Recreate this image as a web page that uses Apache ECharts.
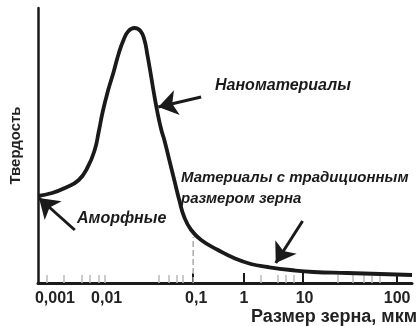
<!DOCTYPE html>
<html>
<head>
<meta charset="utf-8">
<script src="https://cdn.jsdelivr.net/npm/echarts@6/dist/echarts.min.js"></script>
<style>
  html, body { margin: 0; padding: 0; background: #fff; }
  #chart { width: 420px; height: 326px; }
</style>
</head>
<body>
<div id="chart"></div>
<script>
// schematic x position along axis (not linear in grain size)
var sizePos = [0, 14, 27, 41, 50, 57, 61, 65, 70, 76, 81, 86, 91, 97, 103, 107, 110, 113, 116, 120,
               124, 127, 132, 137, 142, 147, 154, 164, 181, 197, 214, 231, 254, 277, 311, 344, 376];
// hardness, arbitrary units
var hardness = [87, 90, 95, 103, 116, 133, 151, 171, 191, 211, 229, 243, 252, 255, 252, 243, 228, 211, 193, 171,
                153, 143, 123, 103, 83, 66, 53, 43, 33, 25, 19, 16, 13, 11, 10, 9, 8];

var minorTicks = [9, 26, 44, 52, 61, 67, 121, 131, 139, 146, 224, 241, 249, 257, 301, 316, 327, 336, 344];
var majorTicks = [156, 207, 266, 361];
var labelPos = [17, 69, 159, 207, 268, 361];
var labelText = ['0,001', '0,01', '0,1', '1', '10', '100'];

// arrows: [from, to]
var arrows = [
  [[164, 186], [121, 176]],
  [[37, 53], [1, 85]],
  [[266, 62], [239, 20]]
];

var font = '"Liberation Sans", Arial, sans-serif';
var ink = '#1a1a1a';

var chart = echarts.init(document.getElementById('chart'));

var curve = sizePos.map(function (x, i) { return [x, hardness[i]]; });

var option = {
  animation: false,
  grid: { left: 36, right: 8, top: 8, bottom: 43 },
  xAxis: [
    {
      type: 'value', position: 'bottom', min: 0, max: 376,
      axisLine: { show: true, lineStyle: { color: ink, width: 3 } },
      axisTick: { show: true, inside: true, length: 8, customValues: minorTicks,
                  lineStyle: { color: '#bbb', width: 1.5 } },
      axisLabel: { show: false },
      splitLine: { show: false }
    },
    {
      type: 'value', position: 'bottom', min: 0, max: 376,
      axisLine: { show: false },
      axisTick: { show: true, inside: true, length: 10, customValues: majorTicks,
                  lineStyle: { color: ink, width: 2 } },
      axisLabel: {
        show: true, customValues: labelPos, margin: 8,
        fontFamily: font, fontWeight: 'bold', fontSize: 16, color: '#222',
        formatter: function (v) { return labelText[labelPos.indexOf(v)]; }
      },
      splitLine: { show: false }
    }
  ],
  yAxis: {
    type: 'value', min: 0, max: 275,
    name: 'Твердость', nameLocation: 'middle', nameGap: 15, nameRotate: 90,
    nameTextStyle: { fontFamily: font, fontWeight: 'bold', fontSize: 15, color: '#222' },
    axisLine: { show: true, lineStyle: { color: ink, width: 2.5 } },
    axisTick: { show: false },
    axisLabel: { show: false },
    splitLine: { show: false }
  },
  graphic: [
    { type: 'text', left: 215, top: 78,
      style: { text: 'Наноматериалы', font: 'italic bold 16px ' + font, fill: ink } },
    { type: 'text', left: 77, top: 211,
      style: { text: 'Аморфные', font: 'italic bold 16px ' + font, fill: ink } },
    { type: 'text', left: 181, top: 170,
      style: { text: 'Материалы с традиционным', font: 'italic bold 15px ' + font, fill: ink } },
    { type: 'text', left: 181, top: 191,
      style: { text: 'размером зерна', font: 'italic bold 15px ' + font, fill: ink } },
    { type: 'text', right: 3, top: 308,
      style: { text: 'Размер зерна, мкм', font: 'bold 18px ' + font, fill: '#222' } }
  ],
  series: [
    {
      type: 'line', xAxisIndex: 0,
      data: [[156, 0], [156, 46]],
      symbol: 'none',
      lineStyle: { color: '#aaa', width: 1.5, type: 'dashed' },
      silent: true
    },
    {
      type: 'line', xAxisIndex: 0,
      data: curve,
      smooth: true,
      symbol: 'none',
      lineStyle: { color: ink, width: 3.8 },
      markLine: {
        silent: true,
        symbol: ['none', 'arrow'],
        symbolSize: 19,
        label: { show: false },
        lineStyle: { color: ink, width: 3, type: 'solid' },
        data: arrows.map(function (a) {
          return [{ coord: a[0] }, { coord: a[1] }];
        })
      }
    }
  ]
};
chart.setOption(option);
</script>
</body>
</html>
